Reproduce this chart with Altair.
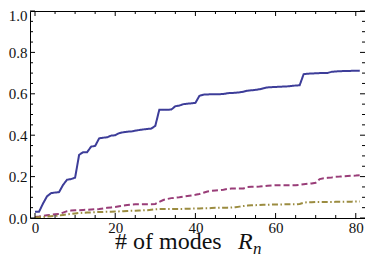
import altair as alt
import pandas as pd

modes = list(range(82))

series_a = [0.03, 0.03, 0.07, 0.105, 0.12, 0.123, 0.125, 0.16, 0.185, 0.188,
            0.195, 0.305, 0.318, 0.318, 0.345, 0.348, 0.385, 0.388, 0.39, 0.398,
            0.4, 0.41, 0.414, 0.417, 0.418, 0.422, 0.425, 0.428, 0.43, 0.432,
            0.445, 0.523, 0.523, 0.523, 0.524, 0.54, 0.543, 0.55, 0.552, 0.554,
            0.556, 0.59, 0.596, 0.597, 0.598, 0.598, 0.598, 0.599, 0.603, 0.604,
            0.605, 0.607, 0.61, 0.615, 0.617, 0.619, 0.622, 0.627, 0.631, 0.632,
            0.633, 0.634, 0.635, 0.636, 0.638, 0.64, 0.641, 0.695, 0.697, 0.698,
            0.699, 0.7, 0.7, 0.701, 0.706, 0.708, 0.709, 0.71, 0.71, 0.711,
            0.711, 0.712]

series_b = [0.005, 0.007, 0.01, 0.013, 0.016, 0.018, 0.019, 0.026, 0.033, 0.036,
            0.037, 0.038, 0.039, 0.04, 0.041, 0.042, 0.043, 0.046, 0.049, 0.051,
            0.053, 0.057, 0.06, 0.063, 0.065, 0.066, 0.066, 0.066, 0.066, 0.066,
            0.068, 0.078, 0.087, 0.092, 0.096, 0.098, 0.1, 0.103, 0.106, 0.109,
            0.112, 0.116, 0.122, 0.128, 0.131, 0.133, 0.135, 0.137, 0.14, 0.142,
            0.142, 0.142, 0.143, 0.15, 0.151, 0.151, 0.152, 0.154, 0.156, 0.157,
            0.158, 0.158, 0.158, 0.158, 0.158, 0.158, 0.16, 0.163, 0.165, 0.167,
            0.17, 0.188, 0.192, 0.194, 0.196, 0.199, 0.2, 0.202, 0.203, 0.204,
            0.205, 0.207]

series_c = [0.003, 0.004, 0.005, 0.007, 0.009, 0.01, 0.012, 0.015, 0.018, 0.02,
            0.022, 0.024, 0.025, 0.026, 0.027, 0.028, 0.029, 0.029, 0.03, 0.03,
            0.031, 0.032, 0.033, 0.034, 0.035, 0.035, 0.036, 0.037, 0.038, 0.04,
            0.042, 0.043, 0.043, 0.043, 0.043, 0.044, 0.044, 0.044, 0.045, 0.045,
            0.046, 0.046, 0.047, 0.047, 0.048, 0.049, 0.049, 0.05, 0.05, 0.051,
            0.052, 0.055, 0.058, 0.06, 0.061, 0.062, 0.063, 0.064, 0.064, 0.065,
            0.065, 0.065, 0.066, 0.066, 0.066, 0.066, 0.068, 0.074, 0.076, 0.076,
            0.077, 0.077, 0.077, 0.077, 0.077, 0.078, 0.078, 0.078, 0.079, 0.079,
            0.08, 0.08]

series_names = ["A", "B", "C"]
series_colors = ["#3d3d99", "#993d78", "#9b8c40"]

x_major = [0, 20, 40, 60, 80]
x_minor = [v for v in range(0, 85, 5) if v not in x_major]
y_major = [0.0, 0.2, 0.4, 0.6, 0.8, 1.0]
y_minor = [round(0.05 * i, 2) for i in range(21) if i % 4 != 0]

rows = []
for name, vals in zip(series_names, [series_a, series_b, series_c]):
    for m, v in zip(modes, vals):
        rows.append({"m": m, "v": v, "s": name})
df = pd.DataFrame(rows)

xs = alt.Scale(domain=[-1.25, 82.3], nice=False, zero=False)
ys = alt.Scale(domain=[0, 1], nice=False)

FONT = "Liberation Serif"

lines = alt.Chart(df).mark_line(strokeWidth=2, clip=True).encode(
    x=alt.X("m:Q", scale=xs,
            axis=alt.Axis(values=x_major, title=None, domain=False, ticks=False,
                          grid=False, labelFont=FONT, labelFontSize=15,
                          labelColor="#111", labelPadding=2, format="d")),
    y=alt.Y("v:Q", scale=ys,
            axis=alt.Axis(values=y_major, title=None, domain=False, ticks=False,
                          grid=False, labelFont=FONT, labelFontSize=15,
                          labelColor="#111", labelPadding=3, format=".1f",
                          labelOffset=alt.condition("datum.value == 1",
                                                    alt.value(4), alt.value(0)))),
    color=alt.Color("s:N", scale=alt.Scale(domain=series_names, range=series_colors),
                    legend=None),
    strokeDash=alt.StrokeDash("s:N", scale=alt.Scale(domain=series_names,
                              range=[[1, 0], [6, 3], [6, 2.5, 1.5, 2.5]]),
                              legend=None),
)

tx = pd.DataFrame({"m": x_major + x_minor,
                   "major": [True] * len(x_major) + [False] * len(x_minor)})
ty = pd.DataFrame({"v": y_major + y_minor,
                   "major": [True] * len(y_major) + [False] * len(y_minor)})

def xticks(major, y0, y1):
    return alt.Chart(tx[tx.major == major]).mark_rule(color="black", strokeWidth=1).encode(
        x=alt.X("m:Q", scale=xs), y=alt.value(y0), y2=alt.value(y1))

def yticks(major, x0, x1):
    return alt.Chart(ty[ty.major == major]).mark_rule(color="black", strokeWidth=1).encode(
        y=alt.Y("v:Q", scale=ys), x=alt.value(x0), x2=alt.value(x1))

W, H = 335, 207
tick_layers = [
    xticks(True, H, H - 5), xticks(False, H, H - 3),
    xticks(True, 0, 5), xticks(False, 0, 3),
    yticks(True, 0, 5), yticks(False, 0, 3),
    yticks(True, W, W - 5), yticks(False, W, W - 3),
]

one = pd.DataFrame({"k": [0]})
t_main = alt.Chart(one).mark_text(font=FONT, fontSize=24, align="left",
                                  baseline="alphabetic", color="#111").encode(
    x=alt.value(85), y=alt.value(238), text=alt.value("# of modes"))
t_r = alt.Chart(one).mark_text(font=FONT, fontSize=24, fontStyle="italic", align="left",
                               baseline="alphabetic", color="#111").encode(
    x=alt.value(208), y=alt.value(238), text=alt.value("R"))
t_n = alt.Chart(one).mark_text(font=FONT, fontSize=17, fontStyle="italic", align="left",
                               baseline="alphabetic", color="#111").encode(
    x=alt.value(223), y=alt.value(243), text=alt.value("n"))

chart = alt.layer(lines, *tick_layers, t_main, t_r, t_n).properties(
    width=W, height=H,
    autosize=alt.AutoSizeParams(type="none"),
    padding={"left": 22, "top": 3, "right": 0, "bottom": 40},
).configure_view(stroke="black", strokeWidth=1)

chart.save("out.html", embed_options={"renderer": "svg", "actions": False})
